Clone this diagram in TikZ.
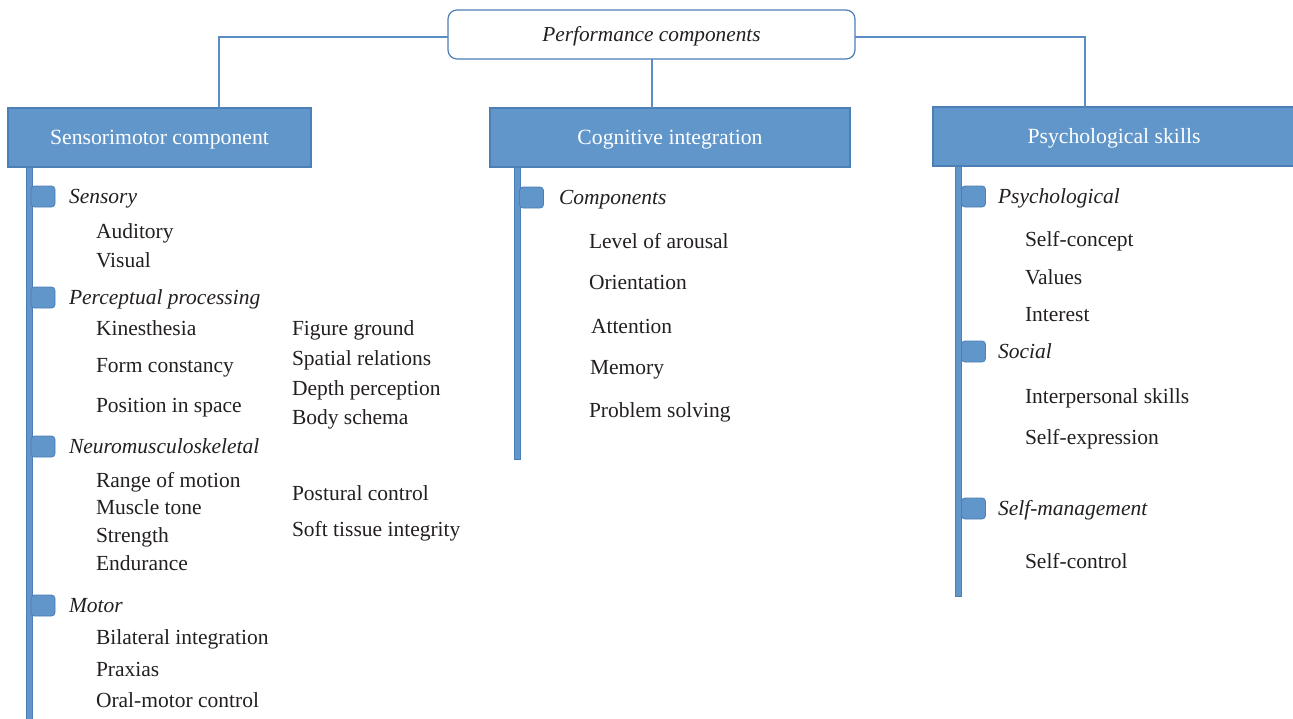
\documentclass[tikz,border=0pt]{standalone}
\usepackage{fontspec}
\setmainfont{Liberation Serif}
\definecolor{boxfill}{HTML}{6196CA}
\definecolor{boxline}{HTML}{4C7FB6}
\definecolor{linkline}{HTML}{5A8DC8}
\definecolor{inktext}{HTML}{231F20}
\tikzset{
  every node/.style={inner sep=0pt, outer sep=0pt},
  topbox/.style={draw=boxline, line width=1.2pt, fill=white, rounded corners=9pt,
    minimum width=407pt, minimum height=49pt, font=\fontsize{21.3}{24}\selectfont\itshape,
    text=inktext, text height=15pt, text depth=1pt},
  headbox/.style={draw=boxline, line width=1.2pt, fill=boxfill, minimum height=59pt,
    font=\fontsize{21.7}{24}\selectfont, text=white, text height=15pt, text depth=1pt},
  link/.style={draw=linkline, line width=1.2pt},
  bar/.style={draw=boxline, line width=0.8pt, fill=boxfill},
  bulletbox/.style={draw=boxline, line width=0.8pt, fill=boxfill, rounded corners=3.5pt,
    minimum width=24pt, minimum height=21pt},
  cat/.style={anchor=west, font=\fontsize{21.5}{24}\selectfont\itshape, text=inktext,
    text height=15pt, text depth=2pt},
  item/.style={anchor=west, font=\fontsize{21.5}{24}\selectfont, text=inktext,
    text height=15pt, text depth=2pt},
}
\begin{document}
\begin{tikzpicture}[x=1pt, y=-1pt]
\useasboundingbox (0,0) rectangle (1293,718);

% root
\node[topbox] (root) at (651.5,34.5) {Performance components};

% branch headers
\node[headbox, minimum width=303pt] (sm) at (159.5,137.5) {Sensorimotor component};
\node[headbox, minimum width=360pt] (cog) at (670,137.5) {Cognitive integration};
\node[headbox, minimum width=362pt] (psy) at (1114,136.5) {Psychological skills};

% attachment points of the links
\coordinate (rootL) at ([yshift=-2.5pt]root.west);
\coordinate (rootR) at ([yshift=-2.5pt]root.east);
\coordinate (rootB) at (652,59);
\coordinate (smjoin) at (219,108);
\coordinate (psyjoin) at (1085,107);

\draw[link] (rootL) -| (smjoin);
\draw[link] (rootR) -| (psyjoin);
\draw[link] (rootB) -- (rootB |- cog.north);

% vertical spines
\draw[bar] (26,167) rectangle (32,719);
\draw[bar] (514,167) rectangle (520,459);
\draw[bar] (955,166) rectangle (961,596);

% ---- sensorimotor column ----
\node[bulletbox] (b-sens) at (43,196.5) {};
\node[cat] (sens) at (69,197) {Sensory};
\node[item] (aud) at (96,232) {Auditory};
\node[item] (vis) at (96,261) {Visual};

\node[bulletbox] (b-perc) at (43,297.5) {};
\node[cat] (perc) at (69,298) {Perceptual processing};
\node[item] (kin) at (96,329) {Kinesthesia};
\node[item] (form) at (96,366) {Form constancy};
\node[item] (pos) at (96,406) {Position in space};
\node[item] (fig) at (292,329) {Figure ground};
\node[item] (spat) at (292,359) {Spatial relations};
\node[item] (depth) at (292,389) {Depth perception};
\node[item] (body) at (292,418) {Body schema};

\node[bulletbox] (b-neuro) at (43,446.5) {};
\node[cat] (neuro) at (69,447) {Neuromusculoskeletal};
\node[item] (rom) at (96,481) {Range of motion};
\node[item] (tone) at (96,508) {Muscle tone};
\node[item] (str) at (96,536) {Strength};
\node[item] (endu) at (96,564) {Endurance};
\node[item] (post) at (292,494) {Postural control};
\node[item] (soft) at (292,530) {Soft tissue integrity};

\node[bulletbox] (b-mot) at (43,605.5) {};
\node[cat] (mot) at (69,606) {Motor};
\node[item] (bil) at (96,638) {Bilateral integration};
\node[item] (prax) at (96,670) {Praxias};
\node[item] (oral) at (96,701) {Oral-motor control};

% ---- cognitive column ----
\node[bulletbox] (b-comp) at (531.5,197.5) {};
\node[cat] (comp) at (559,198) {Components};
\node[item] (arou) at (589,242) {Level of arousal};
\node[item] (orie) at (589,283) {Orientation};
\node[item] (atte) at (591,327) {Attention};
\node[item] (memo) at (590,368) {Memory};
\node[item] (prob) at (589,411) {Problem solving};

% ---- psychological column ----
\node[bulletbox] (b-psyc) at (973.5,196.5) {};
\node[cat] (psyc) at (998,197) {Psychological};
\node[item] (self) at (1025,240) {Self-concept};
\node[item] (vals) at (1025,278) {Values};
\node[item] (inte) at (1025,315) {Interest};

\node[bulletbox] (b-soc) at (973.5,351.5) {};
\node[cat] (soc) at (998,352) {Social};
\node[item] (inter) at (1025,397) {Interpersonal skills};
\node[item] (expr) at (1025,438) {Self-expression};

\node[bulletbox] (b-man) at (973.5,508.5) {};
\node[cat] (man) at (998,509) {Self-management};
\node[item] (ctrl) at (1025,562) {Self-control};
\end{tikzpicture}
\end{document}
